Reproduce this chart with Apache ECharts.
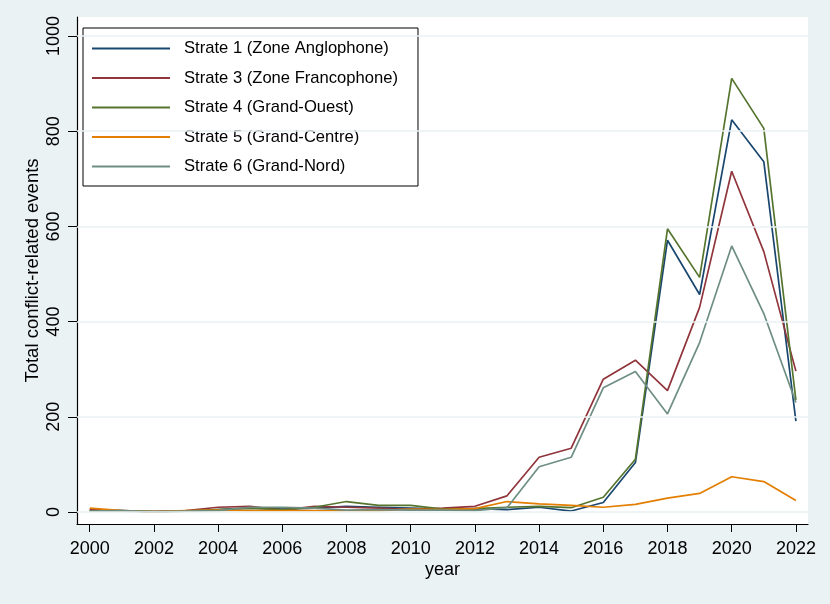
<!DOCTYPE html>
<html>
<head>
<meta charset="utf-8">
<script src="https://cdn.jsdelivr.net/npm/echarts@6/dist/echarts.min.js"></script>
<style>
html,body{margin:0;padding:0;background:#eaf2f3;}
#c{width:830px;height:604px;}
</style>
</head>
<body>
<div id="c"></div>
<script>
const years = [2000,2001,2002,2003,2004,2005,2006,2007,2008,2009,2010,2011,2012,2013,2014,2015,2016,2017,2018,2019,2020,2021,2022];
const xTicks = [2000,2002,2004,2006,2008,2010,2012,2014,2016,2018,2020,2022];
const yTicks = [0,200,400,600,800,1000];
const seriesNames = ['Strate 1 (Zone Anglophone)','Strate 3 (Zone Francophone)','Strate 4 (Grand-Ouest)','Strate 5 (Grand-Centre)','Strate 6 (Grand-Nord)'];
const strate1 = [3,2,1,2,5,8,6,8,12,10,8,6,7,5,10,2,20,104,571,457,824,736,191];
const strate3 = [5,3,1,3,10,12,4,12,10,8,5,8,12,34,115,134,279,319,255,430,716,547,296];
const strate4 = [2,3,1,2,5,8,5,10,22,14,14,6,7,10,12,9,31,111,595,493,911,806,235];
const strate5 = [8,3,1,3,4,3,3,3,3,3,6,5,7,22,17,14,10,16,29,39,74,64,24];
const strate6 = [2,3,1,2,3,10,10,8,4,5,4,4,3,9,95,115,261,295,206,356,559,417,230];
const colors = ['#1a476f','#90353b','#55752f','#e37e00','#6e8e84'];
const allData = [strate1,strate3,strate4,strate5,strate6];

const font = 'Liberation Sans';
const chart = echarts.init(document.getElementById('c'), null, {renderer:'canvas'});

const series = [{
  name: '_grid', type: 'line', data: [], z: 1, silent: true,
  markLine: {
    silent: true, symbol: ['none','none'], label: {show:false},
    lineStyle: {color:'#eaf2f3', width:1.5, type:'solid'},
    animation: false,
    data: yTicks.map(v => ({yAxis: v}))
  }
}];
allData.forEach((d,i) => {
  series.push({
    name: seriesNames[i], type: 'line', z: 3,
    data: years.map((y,j) => [y, d[j]]),
    symbol: 'none', showSymbol: false,
    lineStyle: {color: colors[i], width: 1.7},
    itemStyle: {color: colors[i]},
    emphasis: {disabled: true}
  });
});

chart.setOption({
  animation: false,
  backgroundColor: '#eaf2f3',
  grid: {left: 77, right: 22, top: 17, bottom: 80, show: true, backgroundColor: '#ffffff', borderWidth: 0},
  legend: {
    data: seriesNames, orient: 'vertical', left: 83, top: 28,
    backgroundColor: '#ffffff', borderColor: '#000000', borderWidth: 1,
    padding: [12, 20, 11, 9],
    itemWidth: 78, itemHeight: 2, itemGap: 12.5,
    textStyle: {fontFamily: font, fontSize: 16.6, color: '#000', lineHeight: 16, padding: [0,0,0,9]},
    icon: 'rect',
    itemStyle: {borderWidth: 0}
  },
  xAxis: {
    type: 'value', min: 1999.604, max: 2022.377,
    name: 'year', nameLocation: 'middle', nameGap: 37, nameMoveOverlap: false,
    nameTextStyle: {fontFamily: font, fontSize: 18, color: '#000'},
    axisLine: {show: true, onZero: false, lineStyle: {color: '#000', width: 1.2}},
    axisTick: {show: true, length: 8, customValues: xTicks, lineStyle: {color: '#000', width: 1}},
    axisLabel: {customValues: xTicks, fontFamily: font, fontSize: 18, color: '#000', margin: 16, formatter: v => String(v)},
    splitLine: {show: false}
  },
  yAxis: {
    type: 'value', min: -25.2, max: 1040,
    name: 'Total conflict-related events', nameLocation: 'middle', nameGap: 35, nameRotate: 90, nameMoveOverlap: false,
    nameTextStyle: {fontFamily: font, fontSize: 18.5, color: '#000'},
    axisLine: {show: true, onZero: false, lineStyle: {color: '#000', width: 1.2}},
    axisTick: {show: true, length: 9, customValues: yTicks, lineStyle: {color: '#000', width: 1}},
    axisLabel: {customValues: yTicks, rotate: 90, fontFamily: font, fontSize: 18, color: '#000', margin: 14, formatter: v => String(v)},
    splitLine: {show: false}
  },
  series: series
});
</script>
</body>
</html>
